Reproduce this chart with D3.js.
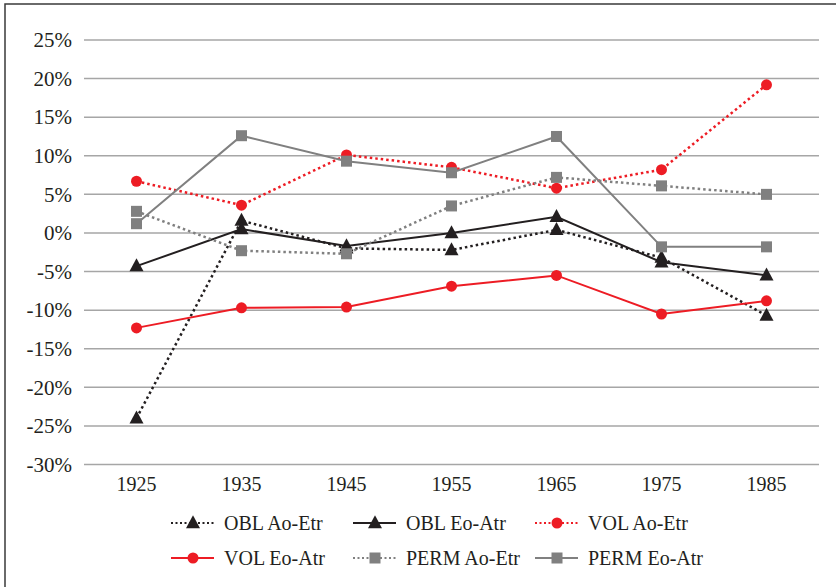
<!DOCTYPE html>
<html>
<head>
<meta charset="utf-8">
<script src="https://cdn.jsdelivr.net/npm/d3@7"></script>
<style>
  html, body { margin: 0; padding: 0; background: #fff; }
  svg { display: block; }
</style>
</head>
<body>
<svg id="chart" width="836" height="587"></svg>
<script>
const years = ["1925", "1935", "1945", "1955", "1965", "1975", "1985"];
const yTicks = [25, 20, 15, 10, 5, 0, -5, -10, -15, -20, -25, -30];

const oblAoEtr  = [-24.0, 1.6, -2.0, -2.2, 0.4, -3.2, -10.7];
const oblEoAtr  = [-4.3, 0.5, -1.7, 0.0, 2.1, -3.8, -5.5];
const volAoEtr  = [6.7, 3.6, 10.1, 8.5, 5.8, 8.2, 19.2];
const volEoAtr  = [-12.3, -9.7, -9.6, -6.9, -5.5, -10.5, -8.8];
const permAoEtr = [2.8, -2.3, -2.7, 3.5, 7.2, 6.1, 5.0];
const permEoAtr = [1.2, 12.6, 9.3, 7.8, 12.5, -1.8, -1.8];

const seriesNames = ["OBL Ao-Etr", "OBL Eo-Atr", "VOL Ao-Etr", "VOL Eo-Atr", "PERM Ao-Etr", "PERM Eo-Atr"];
const seriesValues = [oblAoEtr, oblEoAtr, volAoEtr, volEoAtr, permAoEtr, permEoAtr];
const seriesColors = ["#231f20", "#231f20", "#ed1c24", "#ed1c24", "#808080", "#808080"];
const seriesDashed = [true, false, true, false, true, false];
const seriesMarkers = ["triangle", "triangle", "circle", "circle", "square", "square"];

const FONT = "'Liberation Serif', 'DejaVu Serif', serif";
const svg = d3.select("#chart");

// outer frame (only left and top visible)
svg.append("rect").attr("x", 5).attr("y", 4).attr("width", 900).attr("height", 700)
  .attr("fill", "none").attr("stroke", "#3a3a3a").attr("stroke-width", 1.5);

const x = d3.scaleBand().domain(years).range([84, 819]);
const y = d3.scaleLinear().domain([-30, 25]).range([464.5, 40]);

// gridlines
svg.append("g").selectAll("line").data(yTicks).join("line")
  .attr("x1", 84).attr("x2", 819)
  .attr("y1", d => y(d)).attr("y2", d => y(d))
  .attr("stroke", "#a6a6a6").attr("stroke-width", 1.5);

// y axis labels
const yAxis = d3.axisLeft(y).tickValues(yTicks).tickSize(0).tickPadding(0)
  .tickFormat(d => d + "%");
const gy = svg.append("g").attr("transform", "translate(72,0)").call(yAxis);
gy.select(".domain").remove();
gy.attr("font-family", null).attr("font-size", null);
gy.selectAll("text").style("font-size", "21px").style("font-family", FONT).style("fill", "#231f20");

// x axis labels
const xAxis = d3.axisBottom(x).tickSize(0).tickPadding(0);
const gx = svg.append("g").attr("transform", "translate(0,477)").call(xAxis);
gx.select(".domain").remove();
gx.attr("font-family", null).attr("font-size", null);
gx.selectAll("text").style("font-size", "20px").style("font-family", FONT).style("fill", "#231f20");

const cx = d => x(d) + x.bandwidth() / 2;

function drawMarker(g, type, px, py, color) {
  if (type === "circle") {
    g.append("circle").attr("cx", px).attr("cy", py).attr("r", 5.5).attr("fill", color);
  } else if (type === "square") {
    g.append("rect").attr("x", px - 5.5).attr("y", py - 5.5).attr("width", 11).attr("height", 11).attr("fill", color);
  } else {
    const s = 14;
    const h = 13;
    g.append("path")
      .attr("d", `M${px},${py - h * 0.6}L${px + s / 2},${py + h * 0.4}L${px - s / 2},${py + h * 0.4}Z`)
      .attr("fill", color);
  }
}

const line = d3.line().x(d => cx(d.year)).y(d => y(d.v));

seriesValues.forEach((vals, i) => {
  const pts = years.map((yr, j) => ({ year: yr, v: vals[j] }));
  const g = svg.append("g");
  g.append("path").datum(pts).attr("d", line)
    .attr("fill", "none").attr("stroke", seriesColors[i])
    .attr("stroke-width", seriesDashed[i] ? 2.5 : 2)
    .attr("stroke-dasharray", seriesDashed[i] ? "2.5,3" : null);
  pts.forEach(p => drawMarker(g, seriesMarkers[i], cx(p.year), y(p.v), seriesColors[i]));
});

// legend
const legX = [171, 353, 535];
const legY = [523, 558];
seriesNames.forEach((name, i) => {
  const col = i % 3, row = Math.floor(i / 3);
  const lx = legX[col], ly = legY[row];
  const g = svg.append("g");
  g.append("line").attr("x1", lx).attr("x2", lx + 43).attr("y1", ly).attr("y2", ly)
    .attr("stroke", seriesColors[i])
    .attr("stroke-width", 2)
    .attr("stroke-dasharray", seriesDashed[i] ? "2,2.5" : null);
  drawMarker(g, seriesMarkers[i], lx + 22, ly, seriesColors[i]);
  g.append("text").attr("x", lx + 53).attr("y", ly).attr("dy", "0.35em")
    .style("font-size", "20px").style("font-family", FONT).style("fill", "#231f20")
    .text(name);
});
</script>
</body>
</html>
